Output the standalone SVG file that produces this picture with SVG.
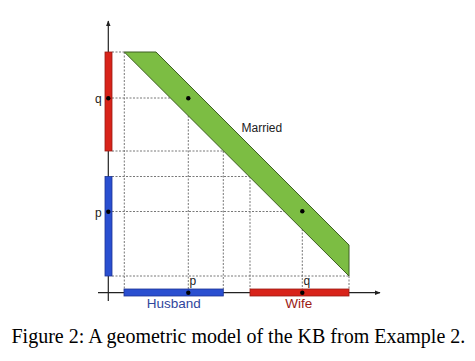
<svg xmlns="http://www.w3.org/2000/svg" width="475" height="361" viewBox="0 0 475 361">
<style>
.dash{stroke:#555;stroke-width:0.8;stroke-dasharray:2,1.5;fill:none}
.axis{stroke:#222;stroke-width:1.2;fill:none}
.lbl{font-family:"Liberation Sans",Arial,sans-serif;font-size:11px;fill:#222}
.dot{fill:#000}
</style>
<defs>
<marker id="arr" viewBox="0 0 10 10" refX="9" refY="5" markerWidth="6" markerHeight="6" orient="auto" markerUnits="userSpaceOnUse">
<path d="M0,1 L10,5 L0,9 z" fill="#222"/>
</marker>
</defs>
<rect width="475" height="361" fill="#fff"/>
<g id="connectors">
<path class="dash" d="M112,52H124 M112,98H188 M112,151H223 M112,176.5H250 M112,211.5H302 M112,276H349"/>
<path class="dash" d="M124.3,52V289 M188.3,98V289 M223.3,151V289 M250,176.5V289 M302.3,211.5V289 M349,276V289"/>
<line class="axis" x1="108.3" y1="301" x2="108.3" y2="21" marker-end="url(#arr)"/>
<line class="axis" x1="98" y1="292.7" x2="380" y2="292.7" marker-end="url(#arr)"/>
</g>
<g id="married">
<polygon points="124.3,52 156,52 349,245 349,276" fill="#7cbd43" stroke="#3d5e22" stroke-width="1"/>
<text x="241.5" y="131.7" class="lbl" style="font-size:12px">Married</text>
</g>
<g id="wife-y">
<rect x="105" y="52" width="7" height="99" fill="#d8231a" stroke="#9a1a12" stroke-width="0.8"/>
</g>
<g id="husband-y">
<rect x="105" y="176.5" width="7" height="99.5" fill="#2a4fd0" stroke="#1c3393" stroke-width="0.8"/>
</g>
<g id="husband">
<rect x="124" y="289" width="99.3" height="7" fill="#2a4fd0" stroke="#1c3393" stroke-width="0.8"/>
<text x="173.8" y="308.3" text-anchor="middle" style="font-family:'Liberation Sans',Arial,sans-serif;font-size:13.5px;fill:#2f469c">Husband</text>
</g>
<g id="wife">
<rect x="250" y="289" width="99" height="7" fill="#d8231a" stroke="#9a1a12" stroke-width="0.8"/>
<text x="298.8" y="308.3" text-anchor="middle" style="font-family:'Liberation Sans',Arial,sans-serif;font-size:13.5px;fill:#9b1b14">Wife</text>
</g>
<g id="points">
<circle class="dot" cx="108.3" cy="98.3" r="2.2"/>
<circle class="dot" cx="188.3" cy="98.3" r="2.2"/>
<circle class="dot" cx="108.3" cy="211.7" r="2.2"/>
<circle class="dot" cx="302.3" cy="211.2" r="2.2"/>
<circle class="dot" cx="188.3" cy="292.7" r="2.2"/>
<circle class="dot" cx="302.3" cy="292.7" r="2.2"/>
<text x="95" y="103" class="lbl" style="font-size:12px">q</text>
<text x="95" y="216.5" class="lbl" style="font-size:12px">p</text>
<text x="189.5" y="285" class="lbl" style="font-size:12px">p</text>
<text x="303.5" y="285" class="lbl" style="font-size:12px">q</text>
</g>
<text x="11.5" y="343.3" style="font-family:'Liberation Serif','Times New Roman',serif;font-size:20px;fill:#000">Figure 2: A geometric model of the KB from Example 2.</text>
</svg>
